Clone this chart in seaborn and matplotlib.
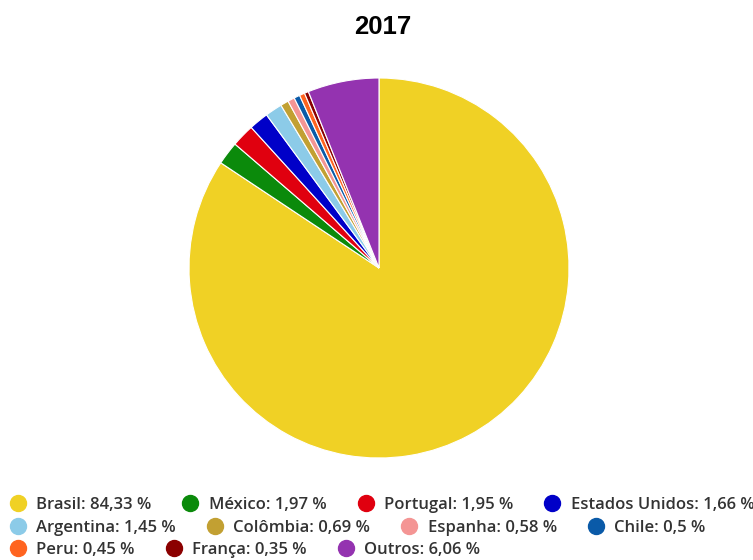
import matplotlib
matplotlib.use("Agg")
import matplotlib.pyplot as plt
import seaborn as sns
from matplotlib.lines import Line2D

sns.set_theme(style="white")
plt.rcParams['font.family'] = ['Open Sans', 'DejaVu Sans']

countries = ["Brasil", "México", "Portugal", "Estados Unidos", "Argentina", "Colômbia",
             "Espanha", "Chile", "Peru", "França", "Outros"]
shares = [84.33, 1.97, 1.95, 1.66, 1.45, 0.69, 0.58, 0.5, 0.45, 0.35, 6.06]
labels = ["84,33", "1,97", "1,95", "1,66", "1,45", "0,69", "0,58", "0,5", "0,45", "0,35", "6,06"]
colors = ["#f0d125", "#0b8a0b", "#e0000f", "#0000c8", "#8ccbe8", "#c2a032",
          "#f49594", "#0a5aa8", "#ff6420", "#8b0000", "#9433b0"]
title = "2017"

fig = plt.figure(figsize=(7.53, 5.60), dpi=100)
ax = fig.add_axes([189/753, (560-268-190)/560, 380/753, 380/560])
ax.pie(shares, colors=colors, startangle=90, counterclock=False,
       wedgeprops=dict(edgecolor="white", linewidth=0.8))
ax.set_xlim(-1, 1)
ax.set_ylim(-1, 1)
ax.set_aspect("equal")
ax.axis("off")

fig.text(383/753, 1-27/560, title, ha="center", va="center", fontsize=18.5,
         fontweight="bold", family=["Liberation Sans", "DejaVu Sans"], color="black")

rows = [[0, 1, 2, 3], [4, 5, 6, 7], [8, 9, 10]]
row_y = [505, 528, 550]
for r, yy in zip(rows, row_y):
    handles = [Line2D([], [], marker="o", linestyle="none", markersize=11.5,
                      markerfacecolor=colors[i], markeredgecolor=colors[i]) for i in r]
    texts = [f"{countries[i]}: {labels[i]} %" for i in r]
    leg = fig.legend(handles, texts, loc="center left", bbox_to_anchor=(6/753, 1-yy/560),
                     ncol=len(r), frameon=False, fontsize=12, handlelength=1.0,
                     handletextpad=0.6, columnspacing=1.85, borderaxespad=0, borderpad=0.2)
    for t in leg.get_texts():
        t.set_color("#333333")
        t.set_fontweight("semibold")

fig.savefig("out.png", dpi=100)
